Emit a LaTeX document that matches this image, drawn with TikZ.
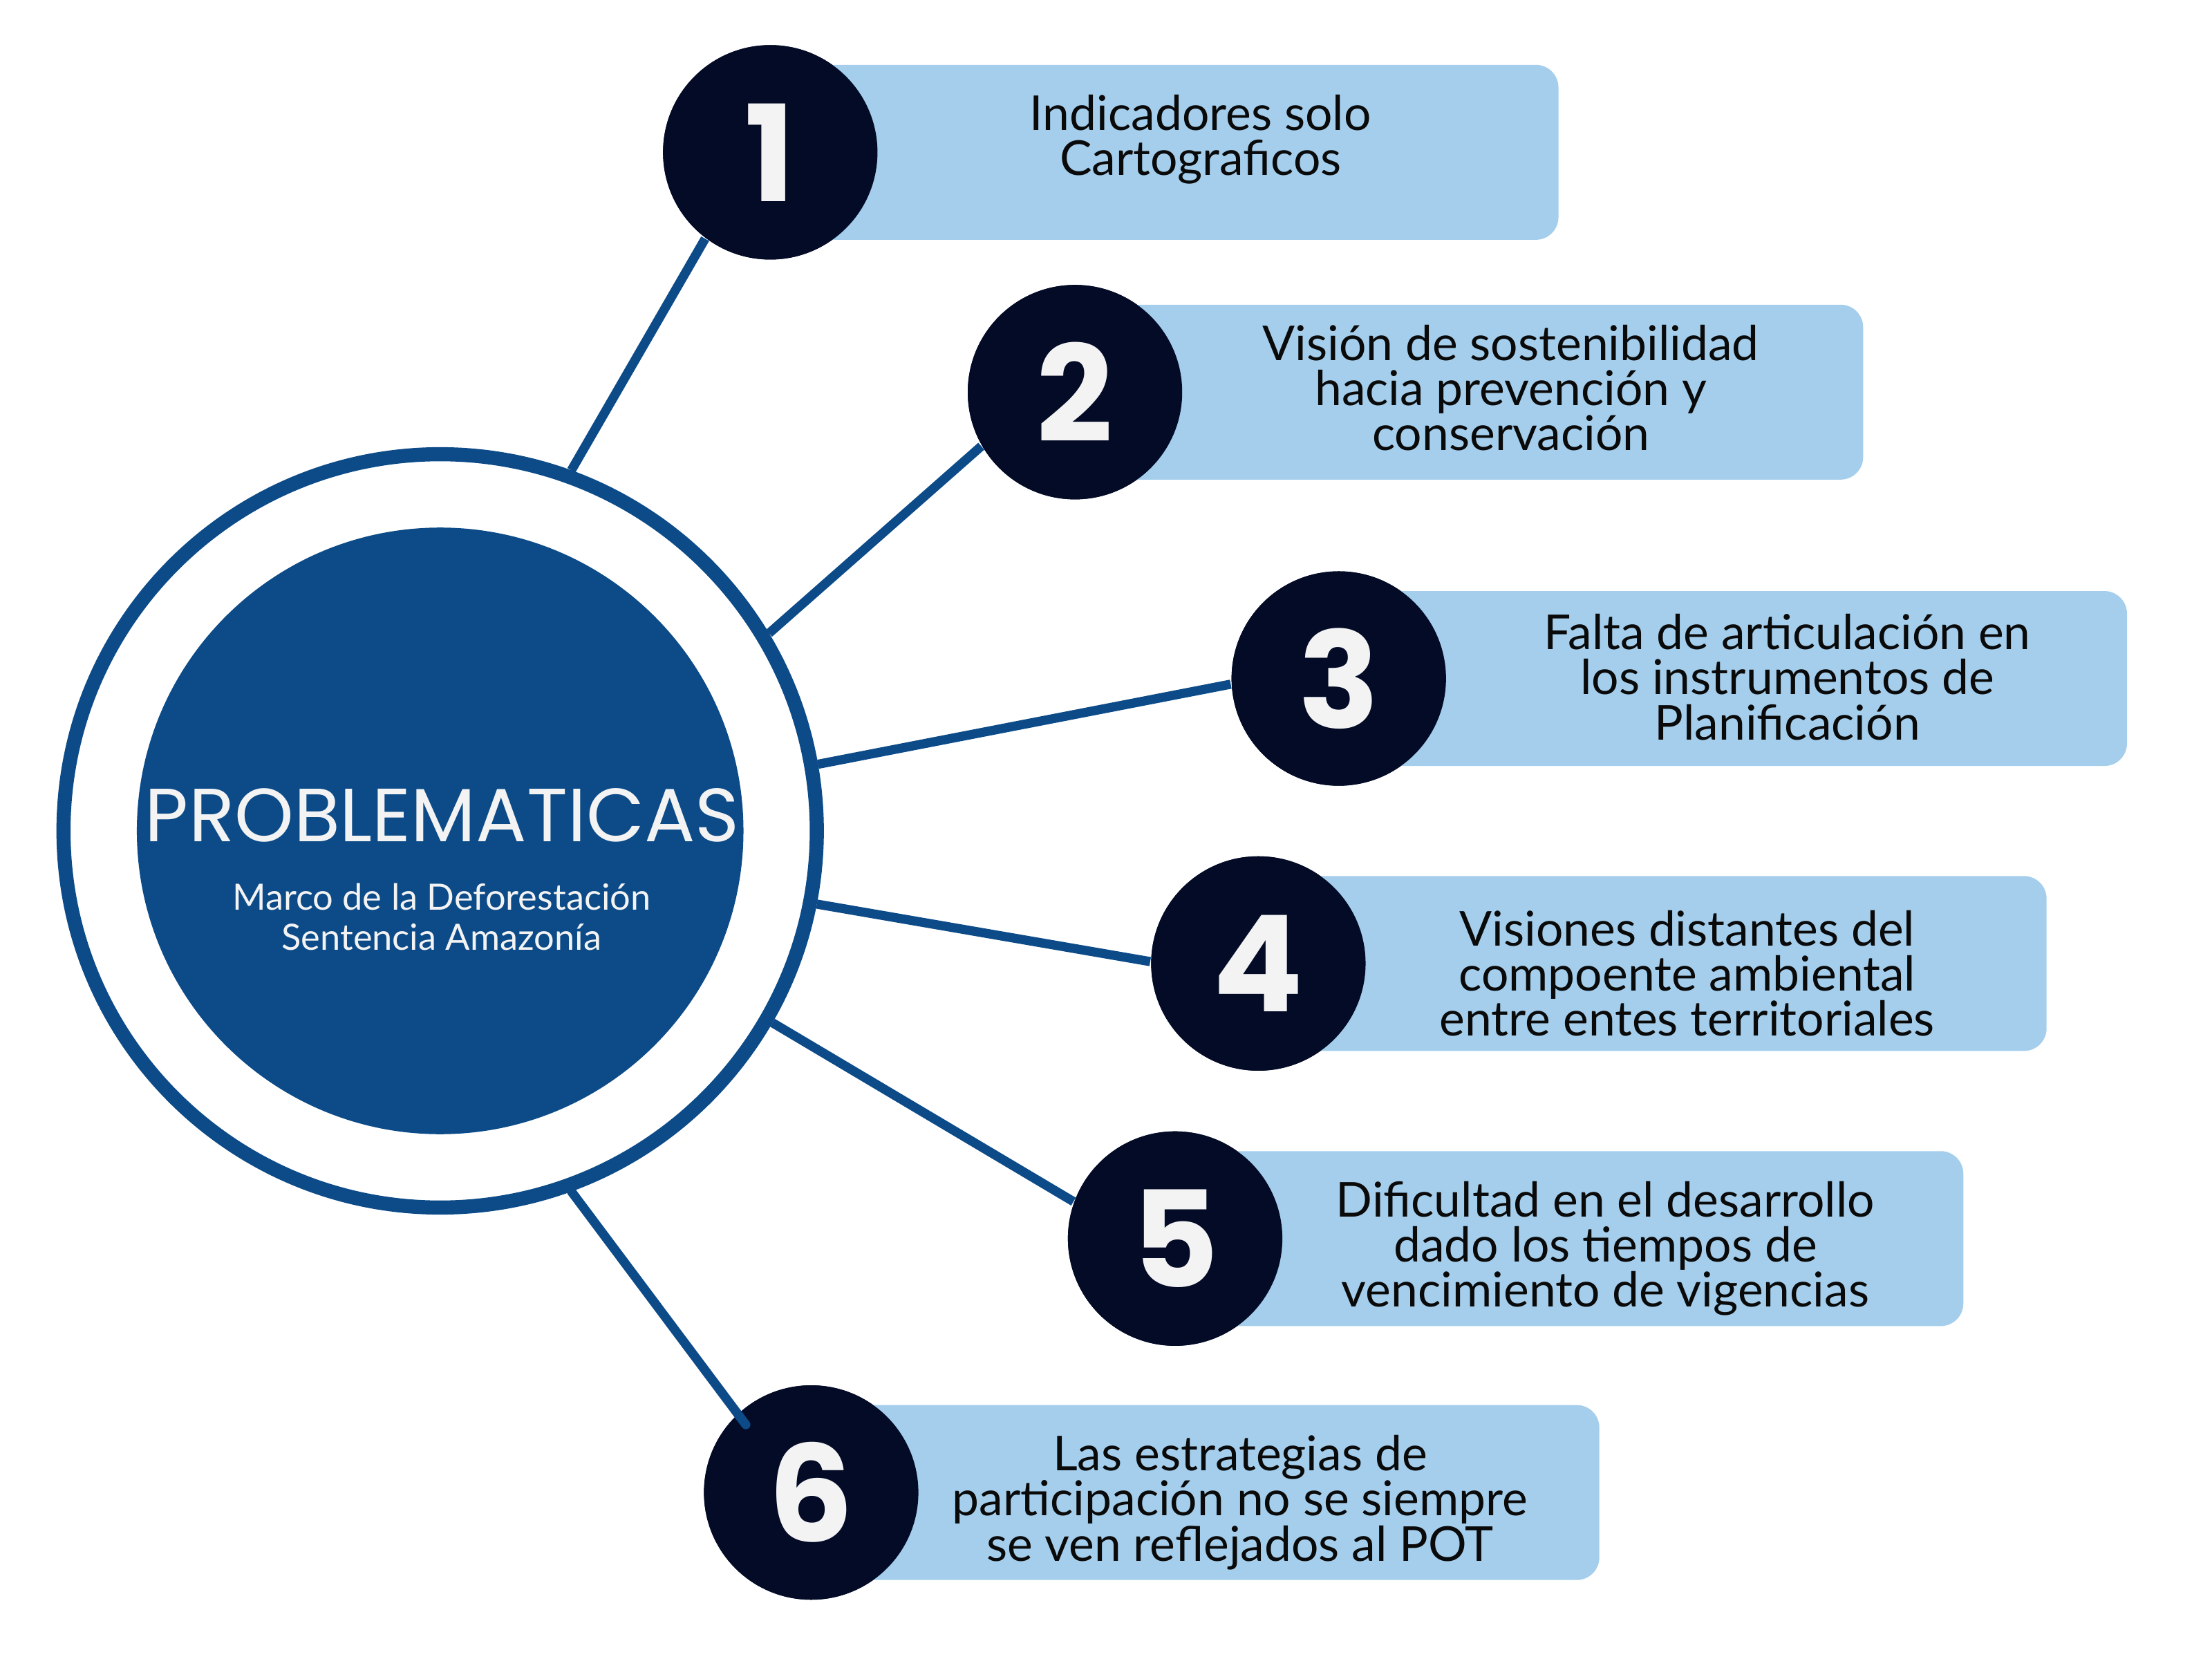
\documentclass[tikz,border=0pt]{standalone}
\usepackage{fontspec}
\usepackage{tikz}
\usetikzlibrary{positioning,calc}
\setmainfont{Lato}
\newfontfamily\headfont{Poppins}
\definecolor{Navy}{HTML}{030B26}
\definecolor{Ocean}{HTML}{0C4B88}
\definecolor{Sky}{HTML}{A4CEEC}
\definecolor{Snow}{HTML}{F3F3F3}
\definecolor{Ink}{HTML}{0A0A0A}

\begin{document}
\begin{tikzpicture}[
  numc/.style={circle,fill=Navy,minimum size=1.52cm,inner sep=0pt,
    text=Snow,font=\headfont\bfseries\fontsize{27}{27}\selectfont},
  bar/.style={fill=Sky,rounded corners=0.16cm,minimum width=5.58cm,
    minimum height=1.24cm,anchor=west,inner sep=0pt},
  lbl/.style={align=center,text=Ink,inner sep=0pt,
    font=\fontsize{9.7}{9.1}\selectfont},
  link/.style={draw=Ocean,line width=0.65mm}]
  \fill[white] (0,0) rectangle (15.68,11.76);

  % centre
  \node[circle,draw=Ocean,line width=1mm,minimum size=5.34cm,inner sep=0pt]
    (ring) at (3.12,5.87) {};
  \node[circle,fill=Ocean,minimum size=4.30cm,inner sep=0pt]
    (core) at (3.12,5.87) {};
  \node[text=Snow,inner sep=0pt,font=\headfont\fontsize{15.2}{15.2}\selectfont]
    (title) at (3.135,5.98) {PROBLEMATICAS};
  \node[text=Snow,inner sep=0pt,align=center,font=\fontsize{7.3}{8}\selectfont]
    (sub) at (3.13,5.26) {Marco de la Deforestación\\Sentencia Amazonía};

  % numbers
  \node[numc] (n1) at (5.46,10.68) {};
  \node[numc] (n2) at (7.62,8.98) {};
  \node[numc] (n3) at (9.49,6.95) {};
  \node[numc] (n4) at (8.92,4.93) {};
  \node[numc] (n5) at (8.33,2.98) {};
  \node[numc] (n6) at (5.75,1.18) {};

  % bars
  \node[bar] (b1) at (n1.center) {};
  \node[bar] (b2) at (n2.center) {};
  \node[bar] (b3) at (n3.center) {};
  \node[bar] (b4) at (n4.center) {};
  \node[bar] (b5) at (n5.center) {};
  \node[bar] (b6) at (n6.center) {};

  \foreach \i in {1,...,6}
    \node[numc] (m\i) at (n\i.center) {\i};

  % links
  \draw[link] (ring.70.1) -- (m1.233.9);
  \draw[link] (ring.31) -- (m2.210.3);
  \draw[link] (ring.10.3) -- (m3.183.9);
  \draw[link] (ring.-11.3) -- (m4.179.2);
  \draw[link] (ring.-30.3) -- (m5.160.6);
  \draw[link,line cap=round,shorten >=-1mm] (ring.-70.2) -- (m6.133.2);

  % texts
  \node[lbl] (t1) at (8.51,10.77) {Indicadores solo\\Cartograficos};
  \node[lbl] (t2) at (10.71,9.01) {Visión de sostenibilidad\\hacia prevención y\\conservación};
  \node[lbl] (t3) at (12.67,6.96) {Falta de articulación en\\los instrumentos de\\Planificación};
  \node[lbl] (t4) at (11.96,4.86) {Visiones distantes del\\compoente ambiental\\entre entes territoriales};
  \node[lbl] (t5) at (11.38,2.91) {Dificultad en el desarrollo\\dado los tiempos de\\vencimiento de vigencias};
  \node[lbl] (t6) at (8.79,1.11) {Las estrategias de\\participación no se siempre\\se ven reflejados al POT};
\end{tikzpicture}
\end{document}
